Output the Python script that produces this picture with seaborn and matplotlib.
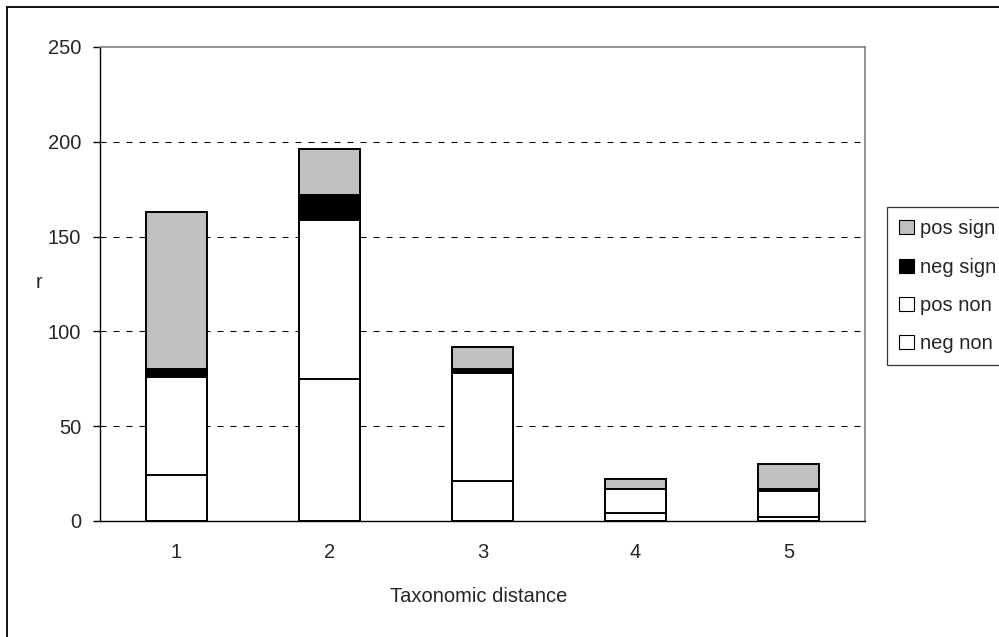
import matplotlib
matplotlib.use("Agg")
import matplotlib.pyplot as plt
import seaborn as sns
import numpy as np
import pandas as pd
from matplotlib.patches import Patch
from matplotlib.lines import Line2D

# ---- data (stack order bottom -> top) ----
categories = ["1", "2", "3", "4", "5"]
neg_non = [24, 75, 21, 4, 2]
pos_non = [52, 84, 57, 13, 14]
neg_sign = [4, 13, 2, 0, 1]
pos_sign = [83, 24, 12, 5, 13]
series_names = ["neg non", "pos non", "neg sign", "pos sign"]
series_colors = ["#FFFFFF", "#FFFFFF", "#000000", "#C0C0C0"]
y_ticks = [0, 50, 100, 150, 200, 250]
x_label = "Taxonomic distance"
y_label = "r"

sns.set_style("white")
plt.rcParams["font.family"] = ["Liberation Sans", "DejaVu Sans"]
FS = 14.5

W, H = 999, 637
fig = plt.figure(figsize=(W / 100, H / 100), dpi=100)
L, R, T, B = 100, 865, 47, 521
ax = fig.add_axes([L / W, 1 - B / H, (R - L) / W, (B - T) / H])

series = [neg_non, pos_non, neg_sign, pos_sign]
cum = np.cumsum(np.array(series, dtype=float), axis=0)

# draw tallest cumulative first, then overlay lower layers
for i in range(len(series) - 1, -1, -1):
    df = pd.DataFrame({"cat": categories, "val": cum[i]})
    sns.barplot(data=df, x="cat", y="val", color=series_colors[i], saturation=1,
                width=0.4, edgecolor="black", linewidth=1.4, errorbar=None, ax=ax,
                zorder=3)

ax.set_xlim(-0.5, len(categories) - 0.5)
ax.set_ylim(y_ticks[0], y_ticks[-1])
ax.set_yticks(y_ticks)
ax.set_yticklabels([str(v) for v in y_ticks], fontsize=FS)

# x: labels at centers (no tick), tick marks at boundaries
ax.set_xticks(range(len(categories)))
ax.set_xticklabels(categories, fontsize=FS)
ax.set_xticks(np.arange(-0.5, len(categories), 1.0), minor=True)
ax.tick_params(axis="x", which="major", length=0, pad=16)
ax.tick_params(axis="x", which="minor", length=7, width=1.0, color="black", direction="out")
ax.tick_params(axis="y", which="major", length=5, width=1.0, color="black", direction="out", pad=8.5, left=True)
ax.set_xlabel("")
ax.set_ylabel("")

# gridlines
for v in y_ticks[1:-1]:
    ax.axhline(v, color="black", lw=0.75, linestyle=(0, (5.76, 6.72)), zorder=1)

for s in ["top", "right"]:
    ax.spines[s].set_color("#808080")
    ax.spines[s].set_linewidth(1.2)
for s in ["left", "bottom"]:
    ax.spines[s].set_color("black")
    ax.spines[s].set_linewidth(1.0)
for s in ax.spines.values():
    s.set_zorder(4)

# axis titles
fig.text(36 / W, 1 - 288 / H, y_label, fontsize=FS, ha="left", va="baseline")
fig.text(479 / W, 1 - 602 / H, x_label, fontsize=FS, ha="center", va="baseline")

# legend (reverse order)
handles = [Patch(facecolor=series_colors[i], edgecolor="black", linewidth=0.8, label=series_names[i])
           for i in range(len(series) - 1, -1, -1)]
leg = fig.legend(handles=handles, loc="upper left", bbox_to_anchor=(887 / W, 1 - 207 / H),
                 bbox_transform=fig.transFigure, borderaxespad=0, fontsize=FS,
                 frameon=True, fancybox=False, shadow=False, handlelength=0.7,
                 handleheight=0.7, handletextpad=0.3, labelspacing=0.95, borderpad=0.62)
leg.get_frame().set_edgecolor("black")
leg.get_frame().set_linewidth(0.9)

# outer chart frame (only top/left visible within image)
fig.add_artist(Line2D([7 / W, 7 / W], [0, 1 - 7 / H], transform=fig.transFigure, color="black", lw=1.3))
fig.add_artist(Line2D([7 / W, 1], [1 - 7 / H, 1 - 7 / H], transform=fig.transFigure, color="black", lw=1.3))

fig.savefig("out.png", dpi=100)
